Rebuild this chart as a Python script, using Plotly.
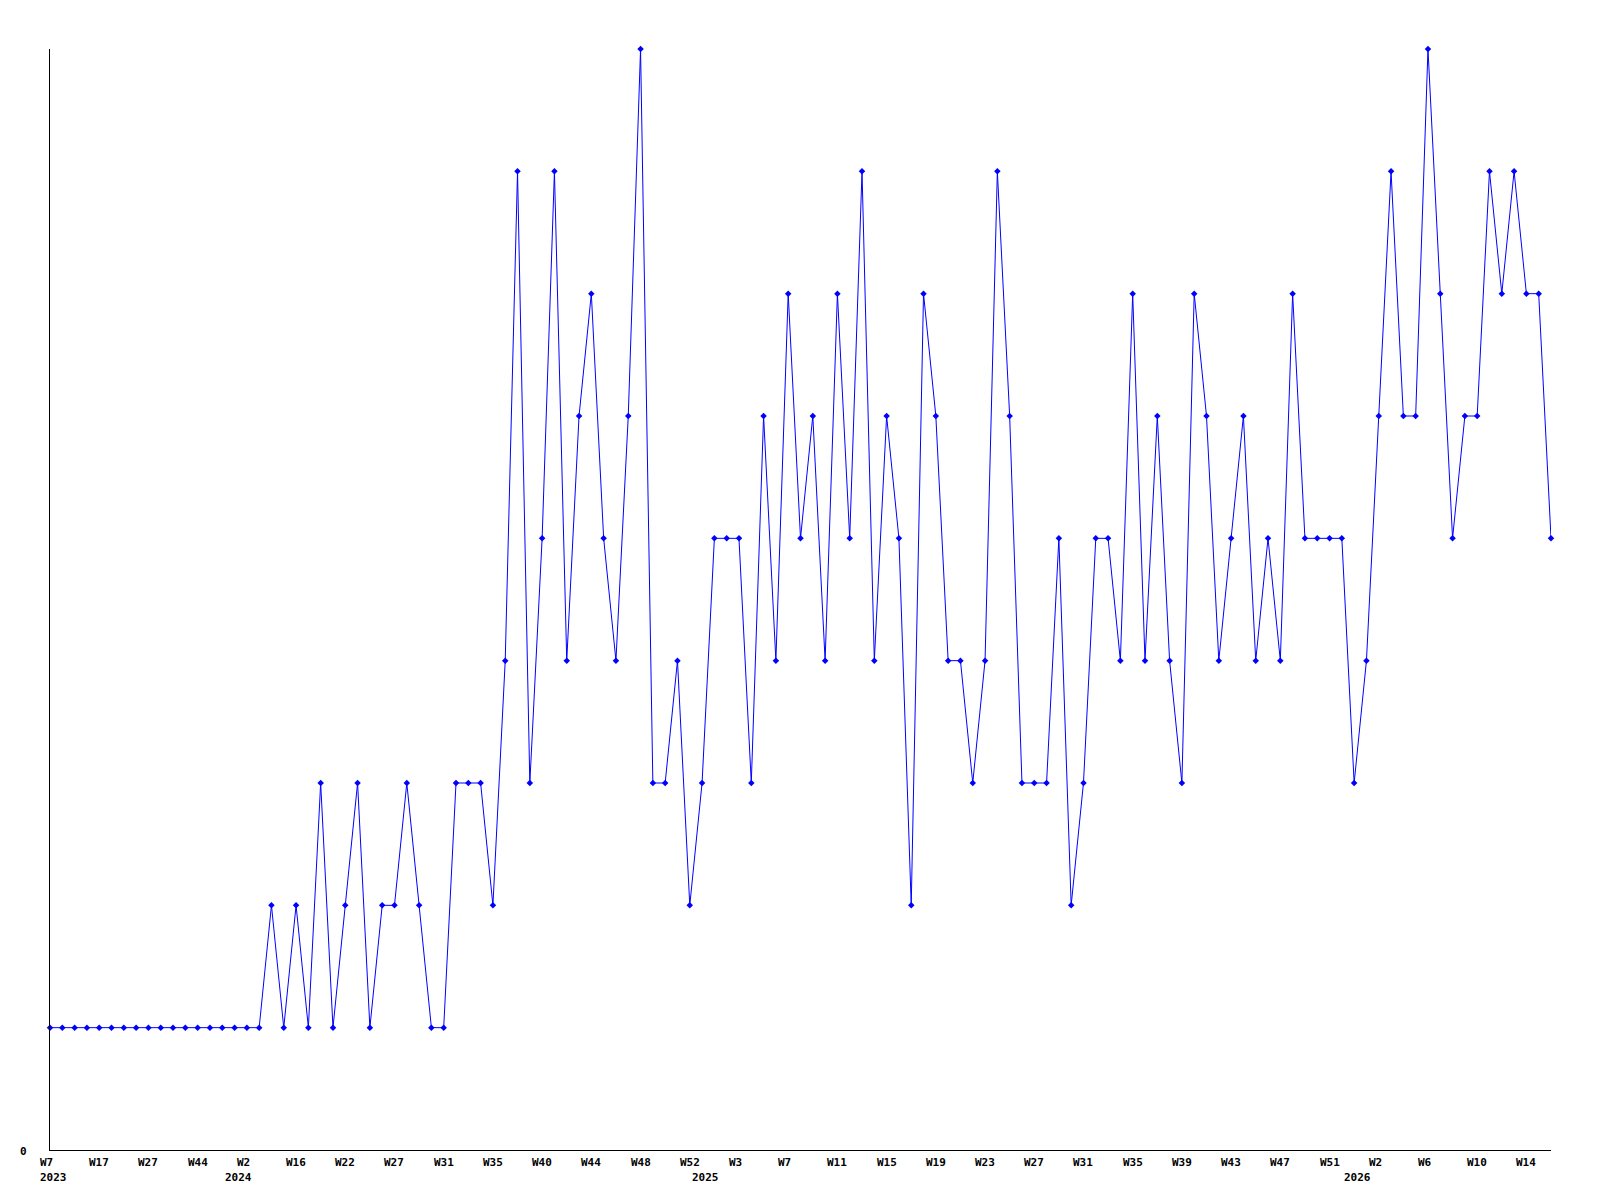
import plotly.graph_objects as go

# Values per data point (weekly buckets), in order
values = (
    [1] * 18
    + [2, 1, 2, 1, 3, 1, 2, 3, 1, 2, 2, 3, 2, 1, 1, 3, 3, 3, 2, 4]
    + [8, 3, 5, 8, 4, 6, 7, 5, 4, 6, 9, 3, 3, 4, 2, 3, 5, 5, 5, 3]
    + [6, 4, 7, 5, 6, 4, 7, 5, 8, 4, 6, 5, 2, 7, 6, 4, 4, 3, 4, 8]
    + [6, 3, 3, 3, 5, 2, 3, 5, 5, 4, 7, 4, 6, 4, 3, 7, 6, 4, 5, 6]
    + [4, 5, 4, 7, 5, 5, 5, 5, 3, 4, 6, 8, 6, 6, 9, 7, 5, 6, 6, 8, 7, 8, 7, 7, 5]
)
x_idx = list(range(len(values)))

# Week tick labels, one every 4 points
week_labels = ["W7", "W17", "W27", "W44", "W2", "W16", "W22", "W27", "W31", "W35",
               "W40", "W44", "W48", "W52", "W3", "W7", "W11", "W15", "W19", "W23",
               "W27", "W31", "W35", "W39", "W43", "W47", "W51", "W2", "W6", "W10", "W14"]
week_label_idx = [i * 4 for i in range(len(week_labels))]

# Year labels at first point of each year
year_labels = ["2023", "2024", "2025", "2026"]
year_label_idx = [0, 15, 53, 106]

y_tick_vals = [0]
y_tick_text = ["0"]

font_family = "DejaVu Sans Mono"
lab_font = dict(family=font_family, size=11, color="black", weight="bold")

fig = go.Figure()
fig.add_trace(go.Scatter(
    x=x_idx, y=values, mode="lines+markers",
    line=dict(color="#0000ff", width=1),
    marker=dict(symbol="diamond", size=5, color="#0000ff"),
    cliponaxis=False, showlegend=False,
))

annotations = []
for i, t in zip(week_label_idx, week_labels):
    annotations.append(dict(x=i, y=0, xref="x", yref="paper", text=t, showarrow=False,
                            xanchor="left", yanchor="middle", xshift=-12, yshift=-12,
                            font=lab_font))
for i, t in zip(year_label_idx, year_labels):
    annotations.append(dict(x=i, y=0, xref="x", yref="paper", text=t, showarrow=False,
                            xanchor="left", yanchor="middle", xshift=-12, yshift=-27,
                            font=lab_font))
for v, t in zip(y_tick_vals, y_tick_text):
    annotations.append(dict(x=0, y=v, xref="paper", yref="y", text=t, showarrow=False,
                            xanchor="right", yanchor="middle", xshift=-21, yshift=-1,
                            font=lab_font))

fig.update_layout(
    width=1592, height=1192,
    margin=dict(l=42, r=49, t=41, b=50, pad=0),
    paper_bgcolor="white", plot_bgcolor="white",
    annotations=annotations,
    xaxis=dict(range=[0, len(values) - 1], showgrid=False, zeroline=False,
               showline=True, linecolor="black", linewidth=1,
               showticklabels=False, ticks=""),
    yaxis=dict(range=[0, max(values)], showgrid=False, zeroline=False,
               showline=True, linecolor="black", linewidth=1,
               showticklabels=False, ticks="", tickvals=y_tick_vals),
)

fig.write_html("out.html")
